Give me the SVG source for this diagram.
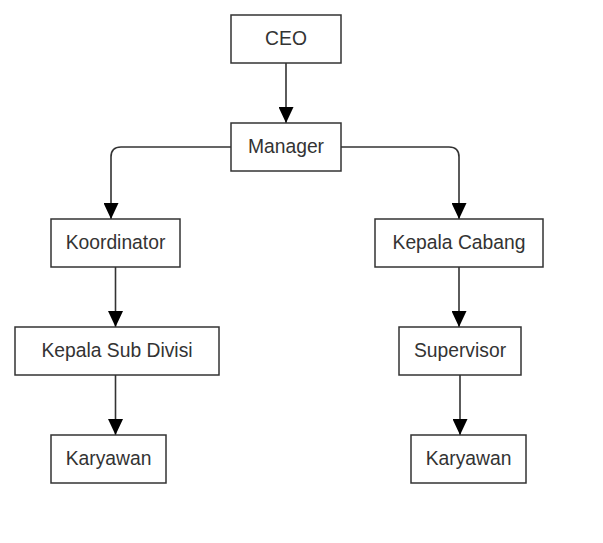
<svg xmlns="http://www.w3.org/2000/svg" width="603" height="543" viewBox="0 0 603 543">
<style>
.box{fill:#fff;stroke:#333;stroke-width:1.5}
.lbl{font-family:"Liberation Sans",Arial,sans-serif;font-size:19.3px;fill:#333;text-anchor:middle;dominant-baseline:central}
.edge{fill:none;stroke:#333;stroke-width:1.6}
</style>
<defs>
<marker id="arr" viewBox="0 0 10 10" refX="10" refY="5" markerWidth="16" markerHeight="15" markerUnits="userSpaceOnUse" orient="auto" preserveAspectRatio="none">
<path d="M0,0 L10,5 L0,10 z" fill="#000"/>
</marker>
</defs>
<rect width="603" height="543" fill="#fff"/>
<g id="connectors">
<path class="edge" d="M286,63 V123" marker-end="url(#arr)"/>
<path class="edge" d="M231,147 H121 Q111,147 111,157 V219" marker-end="url(#arr)"/>
<path class="edge" d="M341,147 H449 Q459,147 459,157 V219" marker-end="url(#arr)"/>
<path class="edge" d="M115.5,267 V327" marker-end="url(#arr)"/>
<path class="edge" d="M115.5,375 V435" marker-end="url(#arr)"/>
<path class="edge" d="M459,267 V327" marker-end="url(#arr)"/>
<path class="edge" d="M460,375 V435" marker-end="url(#arr)"/>
</g>
<g id="ceo"><rect class="box" x="231" y="15" width="110" height="48"/><text class="lbl" x="286" y="38">CEO</text></g>
<g id="manager"><rect class="box" x="231" y="123" width="110" height="48"/><text class="lbl" x="286" y="146">Manager</text></g>
<g id="koordinator"><rect class="box" x="51" y="219" width="129" height="48"/><text class="lbl" x="115.5" y="242">Koordinator</text></g>
<g id="kepala-sub-divisi"><rect class="box" x="15" y="327" width="204" height="48"/><text class="lbl" x="117" y="350">Kepala Sub Divisi</text></g>
<g id="karyawan-left"><rect class="box" x="51" y="435" width="115" height="48"/><text class="lbl" x="108.5" y="458">Karyawan</text></g>
<g id="kepala-cabang"><rect class="box" x="375" y="219" width="168" height="48"/><text class="lbl" x="459" y="242">Kepala Cabang</text></g>
<g id="supervisor"><rect class="box" x="399" y="327" width="122" height="48"/><text class="lbl" x="460" y="350">Supervisor</text></g>
<g id="karyawan-right"><rect class="box" x="411" y="435" width="115" height="48"/><text class="lbl" x="468.5" y="458">Karyawan</text></g>
</svg>
